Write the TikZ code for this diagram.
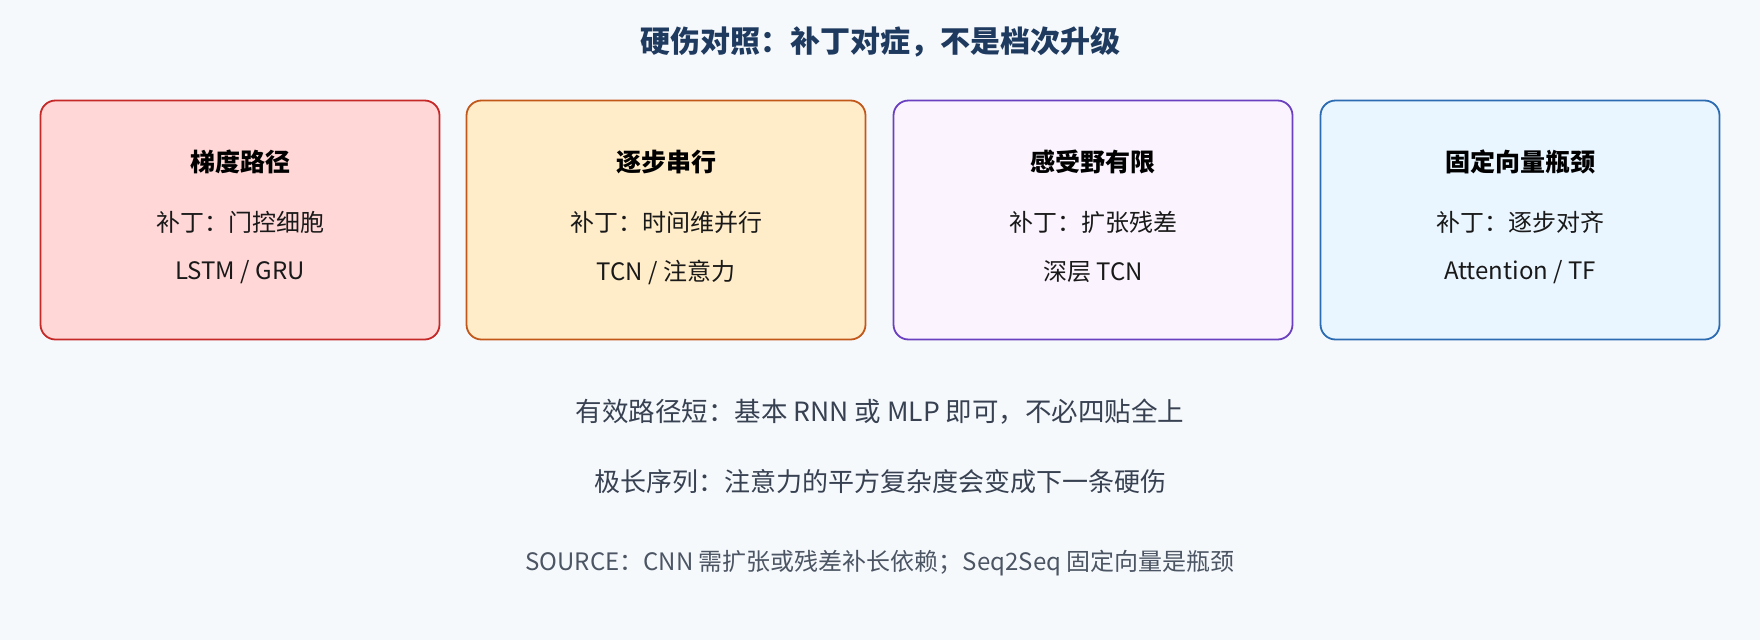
\documentclass[tikz,border=0pt]{standalone}
\usepackage{fontspec}
\setmainfont{Noto Sans CJK SC}
\usetikzlibrary{positioning}
\definecolor{bgc}{HTML}{F6F9FC}
\definecolor{titlec}{HTML}{1E3A5F}
\definecolor{notec}{HTML}{374151}
\definecolor{srcc}{HTML}{4B5563}
\definecolor{fillA}{HTML}{FFD7D7}
\definecolor{drawA}{HTML}{C62828}
\definecolor{fillB}{HTML}{FFECC8}
\definecolor{drawB}{HTML}{C2571A}
\definecolor{fillC}{HTML}{FBF4FF}
\definecolor{drawC}{HTML}{6A40C0}
\definecolor{fillD}{HTML}{EAF6FF}
\definecolor{drawD}{HTML}{2A6BB2}
\tikzset{
  card/.style={rounded corners=15pt, line width=1.8pt, minimum width=399pt, minimum height=239pt, inner sep=0pt},
  cardhead/.style={font=\fontsize{25}{30}\selectfont\bfseries, text=black},
  cardline/.style={font=\fontsize{24}{28}\selectfont, text=black!90}
}
\begin{document}
\begin{tikzpicture}[x=1pt,y=-1pt]
\fill[bgc] (0,0) rectangle (1760,640);
\node[font=\fontsize{30}{36}\selectfont\bfseries, text=titlec] (title) at (880,42) {硬伤对照：补丁对症，不是档次升级};
% the four cards
\foreach \n/\x/\c/\t/\a/\b in {1/240/A/梯度路径/补丁：门控细胞/{LSTM / GRU},
                              2/666/B/逐步串行/补丁：时间维并行/{TCN / 注意力},
                              3/1093/C/感受野有限/补丁：扩张残差/深层 TCN,
                              4/1520/D/固定向量瓶颈/补丁：逐步对齐/{Attention / TF}} {
\node[card, fill=fill\c, draw=draw\c] (card\n) at (\x,220) {};
\node[cardhead] (head\n) at (\x,162) {\t};
\node[cardline] (patch\n) at (\x,222) {\a};
\node[cardline] (model\n) at (\x,272) {\b};
}
\node[font=\fontsize{26.5}{30}\selectfont, text=notec] (short) at (880,412) {有效路径短：基本 RNN 或 MLP 即可，不必四贴全上};
\node[font=\fontsize{26}{30}\selectfont, text=notec] (long) at (880,482) {极长序列：注意力的平方复杂度会变成下一条硬伤};
\node[font=\fontsize{24}{28}\selectfont, text=srcc] (source) at (880,563) {SOURCE：CNN 需扩张或残差补长依赖；Seq2Seq 固定向量是瓶颈};
\end{tikzpicture}
\end{document}
